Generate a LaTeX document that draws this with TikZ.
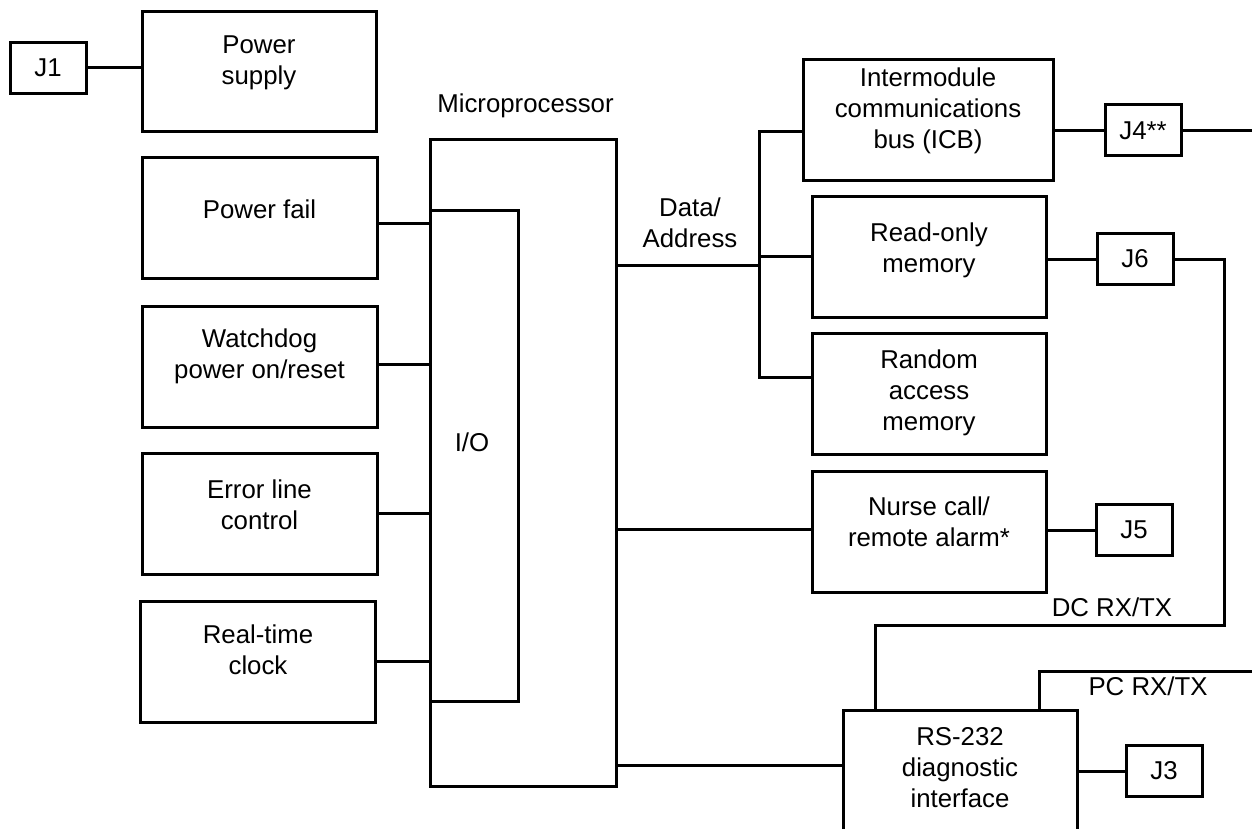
\documentclass[tikz,border=0pt]{standalone}
\usepackage{fontspec}
\setmainfont{Liberation Sans}
\tikzset{
  blk/.style={draw, line width=3pt, rectangle, inner sep=0pt, minimum width=235pt, minimum height=121pt},
  jbox/.style={draw, line width=3pt, rectangle, inner sep=0pt, minimum width=76pt, minimum height=51pt, font=\fontsize{25.8}{31}\selectfont},
  txt/.style={align=center, inner sep=0pt, font=\fontsize{25.8}{31}\selectfont},
  wire/.style={line width=3pt}
}
\begin{document}
\begin{tikzpicture}[x=1pt,y=-1pt]
\useasboundingbox (0,0) rectangle (1252,829);
\clip (0,0) rectangle (1252,829);
% left column
\node[jbox] (j1) at (48,68) {J1};
\node[blk, minimum width=234pt, minimum height=120pt] (ps) at (259,72) {};
\node[txt] (pst) at (259,63) {Power\\supply};
\node[blk] (pf) at (259.5,218) {};
\node[txt] (pft) at (259.5,209) {Power fail};
\node[blk] (wd) at (259.5,366.5) {};
\node[txt] (wdt) at (259.5,356) {Watchdog\\power on/reset};
\node[blk] (el) at (259.5,513.5) {};
\node[txt] (elt) at (259.5,505) {Error line\\control};
\node[blk] (rtc) at (258,661.5) {};
\node[txt] (rtct) at (258,650) {Real-time\\clock};
% microprocessor
\node[draw, line width=3pt, inner sep=0pt, minimum width=186pt, minimum height=646pt] (mp) at (523,463) {};
\node[draw, line width=3pt, inner sep=0pt, minimum width=88pt, minimum height=491pt] (io) at (474,455.5) {};
\node[txt] (mpt) at (525.5,106) {Microprocessor};
\node[txt] (iot) at (472,442) {I/O};
\node[txt] (dat) at (690,223) {Data/\\Address};
% right column
\node[blk, minimum width=250pt] (icb) at (928,120) {};
\node[txt] (icbt) at (928,111) {Intermodule\\communications\\bus (ICB)};
\node[blk, minimum width=234pt] (rom) at (929,257) {};
\node[txt] (romt) at (929,250) {Read-only\\memory};
\node[blk, minimum width=234pt] (ram) at (929,394) {};
\node[txt] (ramt) at (929,393) {Random\\access\\memory};
\node[blk, minimum width=234pt] (nc) at (929,531.5) {};
\node[txt] (nct) at (929,522) {Nurse call/\\remote alarm*};
\node[blk, minimum width=234pt, minimum height=150pt] (rs) at (960,785) {};
\node[txt] (rst) at (960,768) {RS-232\\diagnostic\\interface};
\node[jbox] (j4) at (1143,130.5) {J4**};
\node[jbox] (j6) at (1135,259) {J6};
\node[jbox] (j5) at (1134,530) {J5};
\node[jbox] (j3) at (1164,771) {J3};
\node[txt] (dct) at (1112,607) {DC RX/TX};
\node[txt] (pct) at (1148,686) {PC RX/TX};
% coordinates
\coordinate (bustop) at (759,132);
\coordinate (busbot) at (759,377);
\coordinate (busmid) at (759,265);
\coordinate (busrom) at (759,256);
\coordinate (j4out) at (1252,129);
\coordinate (dc1) at (1224,625);
\coordinate (dc2) at (875,625);
\coordinate (pc1) at (1039,671);
\coordinate (pcend) at (1252,671);
% connectors left
\draw[wire] (j1.east) -- (j1.east -| ps.west);
\draw[wire] ([yshift=-5pt]pf.east) -- ([yshift=-5pt]pf.east -| mp.west);
\draw[wire] ([yshift=2pt]wd.east) -- ([yshift=2pt]wd.east -| mp.west);
\draw[wire] (el.east) -- (el.east -| mp.west);
\draw[wire] (rtc.east) -- (rtc.east -| mp.west);
% data bus
\draw[wire] (mp.east |- busmid) -- (busmid);
\draw[wire] (icb.west |- bustop) -- (bustop) -- (busbot) -- (busbot -| ram.west);
\draw[wire] (busrom) -- (busrom -| rom.west);
% right connectors
\draw[wire] (j4.west -| icb.east) -- (j4.west);
\draw[wire] (j4.east) -- (j4.east -| j4out);
\draw[wire] (j6.west -| rom.east) -- (j6.west);
\draw[wire] (j6.east) -- (j6.east -| dc1) -- (dc1) -- (dc2) -- (dc2 |- rs.north);
\draw[wire] ([yshift=2.5pt]nc.west -| mp.east) -- ([yshift=2.5pt]nc.west);
\draw[wire] (nc.east |- j5.west) -- (j5.west);
\draw[wire] ([yshift=20pt]rs.west -| mp.east) -- ([yshift=20pt]rs.west);
\draw[wire] (j3.west -| rs.east) -- (j3.west);
\draw[wire] (pc1 |- rs.north) -- (pc1) -- (pcend);
\end{tikzpicture}
\end{document}
